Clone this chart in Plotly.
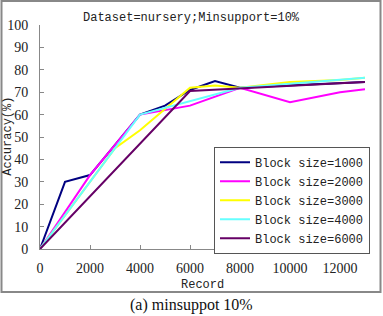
import plotly.graph_objects as go

# Data
names = ["Block size=1000", "Block size=2000", "Block size=3000", "Block size=4000", "Block size=6000"]
x_b1000 = [0, 1000, 2000, 3000, 4000, 5000, 6000, 7000, 8000, 9000, 10000, 11000, 12000, 13000]
y_b1000 = [0, 30, 33, 46.5, 60, 64, 71, 75, 72, 72.5, 73, 73.5, 74, 74.5]
x_b2000 = [0, 2000, 4000, 6000, 8000, 10000, 12000, 13000]
y_b2000 = [0, 33, 60, 64, 72, 65.5, 70, 71.3]
x_b3000 = [0, 3000, 4000, 6000, 7000, 8000, 10000, 12000, 13000]
y_b3000 = [0, 45, 53, 72, 73, 72, 74.5, 75.5, 76.5]
x_b4000 = [0, 4000, 8000, 12000, 13000]
y_b4000 = [0, 60, 72, 75.5, 76.4]
x_b6000 = [0, 6000, 12000, 13000]
y_b6000 = [0, 70.5, 74, 74.5]

xs = [x_b1000, x_b2000, x_b3000, x_b4000, x_b6000]
ys = [y_b1000, y_b2000, y_b3000, y_b4000, y_b6000]
colors = ["#000080", "#FF00FF", "#FFFF00", "#66FFFF", "#660066"]

x_ticks = [0, 2000, 4000, 6000, 8000, 10000, 12000]
y_ticks = [0, 10, 20, 30, 40, 50, 60, 70, 80, 90, 100]

title_text = "Dataset=nursery;Minsupport=10%"
x_title = "Record"
y_title = "Accuracy(%)"
caption = "(a) minsuppot 10%"

mono = "Liberation Mono, Courier New, monospace"
serif = "Liberation Serif, Times New Roman, serif"

fig = go.Figure()
for n, x, y, c in zip(names, xs, ys, colors):
    fig.add_trace(go.Scatter(x=x, y=y, mode="lines", name=n,
                             line=dict(color=c, width=2)))

# plot area in pixels: left 40, right 365, top 25, bottom 249.5
L, R, T, B = 40, 365, 25, 249.5
W, H = 383, 316
pw, ph = R - L, B - T
def px(xp):
    return (xp - L) / pw
def py(yp):
    return (B - yp) / ph

fig.update_layout(
    width=W, height=H,
    margin=dict(l=L, r=W - R, t=T, b=H - B, pad=0, autoexpand=False),
    paper_bgcolor="white", plot_bgcolor="white",
    showlegend=True,
    legend=dict(x=px(214), y=py(147), xanchor="left", yanchor="top",
                bgcolor="white", bordercolor="#555555", borderwidth=1,
                font=dict(family=mono, size=12, color="#222222"),
                tracegroupgap=0, itemwidth=30),
    xaxis=dict(range=[0, 13000], tickvals=x_ticks, ticktext=[str(v) for v in x_ticks],
               showgrid=False, zeroline=False, showline=True, linecolor="#888888", linewidth=1,
               ticks="inside", ticklen=4, tickcolor="#888888",
               tickfont=dict(family=serif, size=14, color="#222222"),
               ticklabelstandoff=6),
    yaxis=dict(range=[0, 100], tickvals=y_ticks, ticktext=[str(v) for v in y_ticks],
               showgrid=False, zeroline=False, showline=True, linecolor="#888888", linewidth=1,
               ticks="inside", ticklen=4, tickcolor="#888888",
               tickfont=dict(family=serif, size=14, color="#222222"),
               ticklabelstandoff=8),
    shapes=[dict(type="rect", xref="paper", yref="paper",
                 x0=px(1.5), x1=px(380.5), y0=py(292.5), y1=py(1),
                 line=dict(color="#888888", width=2), layer="below")],
    annotations=[
        dict(text=title_text, xref="paper", yref="paper", x=px(191.5), y=py(18),
             xanchor="center", yanchor="middle", showarrow=False,
             font=dict(family=mono, size=12, color="#222222")),
        dict(text=x_title, xref="paper", yref="paper", x=px(202), y=py(286),
             xanchor="center", yanchor="middle", showarrow=False,
             font=dict(family=mono, size=12, color="#222222")),
        dict(text=y_title, xref="paper", yref="paper", x=px(8), y=py(137),
             xanchor="center", yanchor="middle", showarrow=False, textangle=-90,
             font=dict(family=mono, size=12, color="#222222")),
        dict(text=caption, xref="paper", yref="paper", x=px(191.5), y=py(306),
             xanchor="center", yanchor="middle", showarrow=False,
             font=dict(family=serif, size=16, color="#111111")),
    ],
)

fig.write_html("out.html", config={"displayModeBar": False},
               post_script="document.body.style.margin='0';")
